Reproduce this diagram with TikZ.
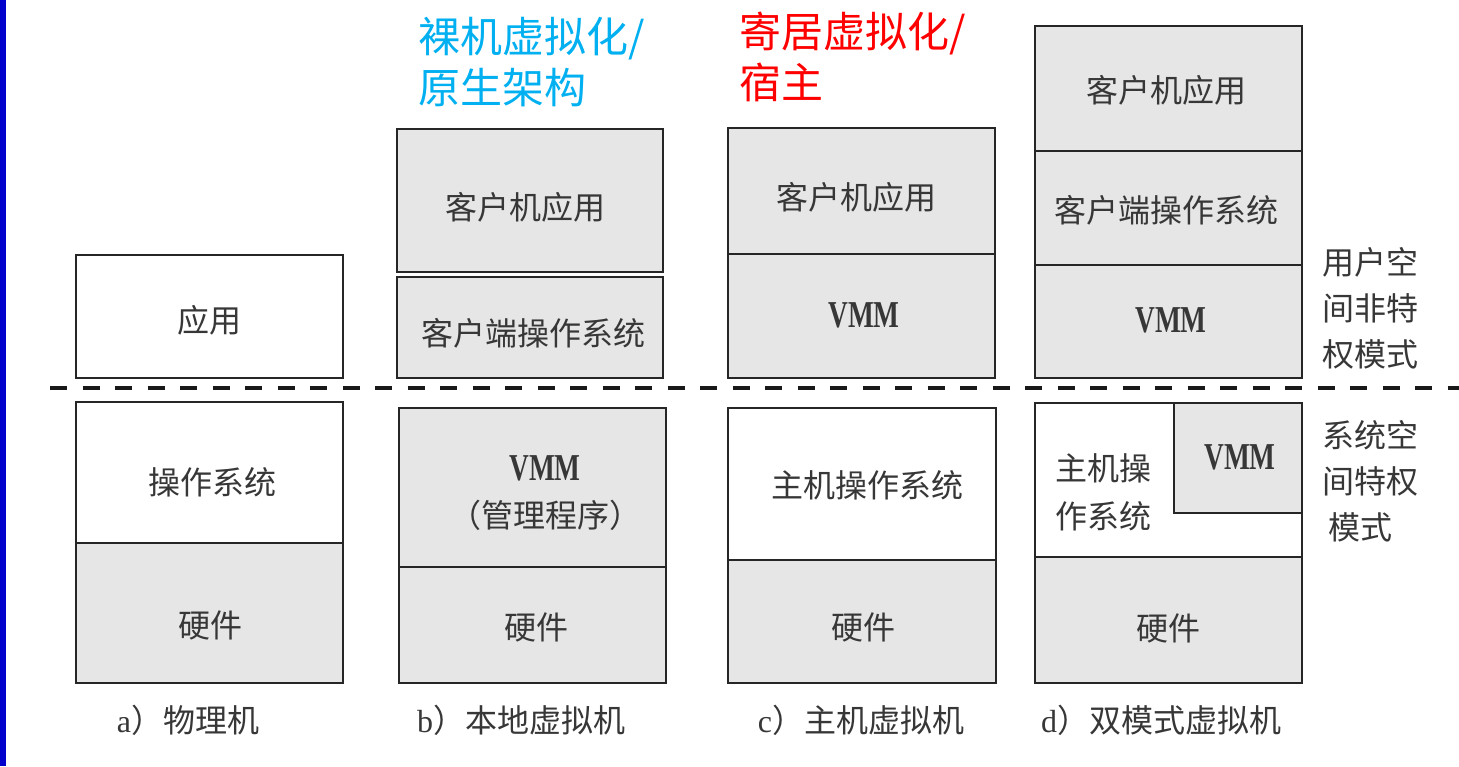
\documentclass[tikz,border=0pt]{standalone}
\usepackage{fontspec}
\setmainfont{Liberation Serif}
\newfontfamily\cjk{Noto Sans CJK SC}
\newfontfamily\latn{Liberation Serif}
\newfontfamily\vmmfont{Liberation Serif Bold}[FakeStretch=0.72]
\usetikzlibrary{fit}
\definecolor{titlecyan}{RGB}{0,176,240}
\definecolor{titlered}{RGB}{255,0,0}
\definecolor{barblue}{RGB}{0,0,204}
\definecolor{boxgray}{RGB}{230,230,230}
\definecolor{txtgray}{RGB}{55,55,55}
\tikzset{
  layer/.style={draw=black!85, line width=1.25pt, inner sep=0pt},
  wlayer/.style={layer, fill=white},
  glayer/.style={layer, fill=boxgray},
  lbl/.style={inner sep=0pt, text=txtgray, align=center, font=\cjk\fontsize{16}{24}\selectfont},
  vmmtxt/.style={lbl, font=\vmmfont\fontsize{19}{24}\selectfont},
  captxt/.style={font=\cjk\fontsize{16}{20}\selectfont, text=txtgray, inner sep=0pt},
  sidetxt/.style={font=\cjk\fontsize{16}{23}\selectfont, text=txtgray, align=left, inner sep=0pt},
  ttl/.style={font=\cjk\fontsize{21}{25.5}\selectfont, align=left, inner sep=0pt, anchor=west},
  sepline/.style={line width=2pt, dash pattern=on 8.5pt off 7.75pt, draw=black!90}
}
\begin{document}
\begin{tikzpicture}[x=0.5pt, y=-0.5pt]
\useasboundingbox[fill=white] (0,0) rectangle (1459,766);
\fill[barblue] (0,0) rectangle (6,766);

% separator
\coordinate (sepL) at (50,388);
\coordinate (sepR) at (1459,388);
\draw[sepline] (sepL) -- (sepR);

% titles
\node[ttl, text=titlecyan] (t1) at (418,62) {裸机虚拟化/\\原生架构};
\node[ttl, text=titlered] (t2) at (739,57) {寄居虚拟化/\\宿主};

% a) physical machine
\node[wlayer, fit={(76,255)(343,378)}] (aapp) {};
\node[wlayer, fit={(76,402)(343,543)}] (aos) {};
\node[glayer, fit={(76,543)(343,683)}] (ahw) {};
\node[lbl] (aappt) at (209,320) {应用};
\node[lbl] (aost) at (212,482) {操作系统};
\node[lbl] (ahwt) at (210,625) {硬件};

% b) native VM
\node[glayer, fit={(397,129)(663,272)}] (bapp) {};
\node[glayer, fit={(397,277)(663,378)}] (bgos) {};
\node[glayer, fit={(399,408)(666,567)}] (bvmm) {};
\node[glayer, fit={(399,567)(666,683)}] (bhw) {};
\node[lbl] (bappt) at (525,207) {客户机应用};
\node[lbl] (bgost) at (533,333) {客户端操作系统};
\node[vmmtxt] (bvmmt) at (545,468) {VMM};
\node[lbl] (bvmmt2) at (545,515) {（管理程序）};
\node[lbl] (bhwt) at (536,627) {硬件};

% c) hosted VM
\node[glayer, fit={(728,128)(995,254)}] (capp) {};
\node[glayer, fit={(728,254)(995,378)}] (cvmm) {};
\node[wlayer, fit={(728,408)(996,560)}] (cos) {};
\node[glayer, fit={(728,560)(996,683)}] (chw) {};
\node[lbl] (cappt) at (856,197) {客户机应用};
\node[vmmtxt] (cvmmt) at (864,315) {VMM};
\node[lbl] (cost) at (867,485) {主机操作系统};
\node[lbl] (chwt) at (863,627) {硬件};

% d) dual-mode VM
\node[glayer, fit={(1035,26)(1302,151)}] (dapp) {};
\node[glayer, fit={(1035,151)(1302,265)}] (dgos) {};
\node[glayer, fit={(1035,265)(1302,378)}] (dvmm) {};
\node[wlayer, fit={(1035,403)(1302,557)}] (dos) {};
\node[glayer, fit={(1174,403)(1302,513)}] (dvmmk) {};
\node[glayer, fit={(1035,557)(1302,683)}] (dhw) {};
\node[lbl] (dappt) at (1166,90) {客户机应用};
\node[lbl] (dgost) at (1166,210) {客户端操作系统};
\node[vmmtxt] (dvmmt) at (1171,320) {VMM};
\node[vmmtxt] (dvmmkt) at (1240,457) {VMM};
\node[lbl, align=left] (dost) at (1103,492) {主机操\\作系统};
\node[lbl] (dhwt) at (1168,628) {硬件};

% side labels
\node[sidetxt] (uside) at (1370,308) {用户空\\间非特\\权模式};
\node[sidetxt] (kside) at (1370,481) {系统空\\间特权\\\hspace*{0.2em}模式};

% captions
\node[captxt] (capa) at (188,720) {{\latn a}）物理机};
\node[captxt] (capb) at (521,720) {{\latn b}）本地虚拟机};
\node[captxt] (capc) at (861,720) {{\latn c}）主机虚拟机};
\node[captxt] (capd) at (1161,720) {{\latn d}）双模式虚拟机};
\end{tikzpicture}
\end{document}
